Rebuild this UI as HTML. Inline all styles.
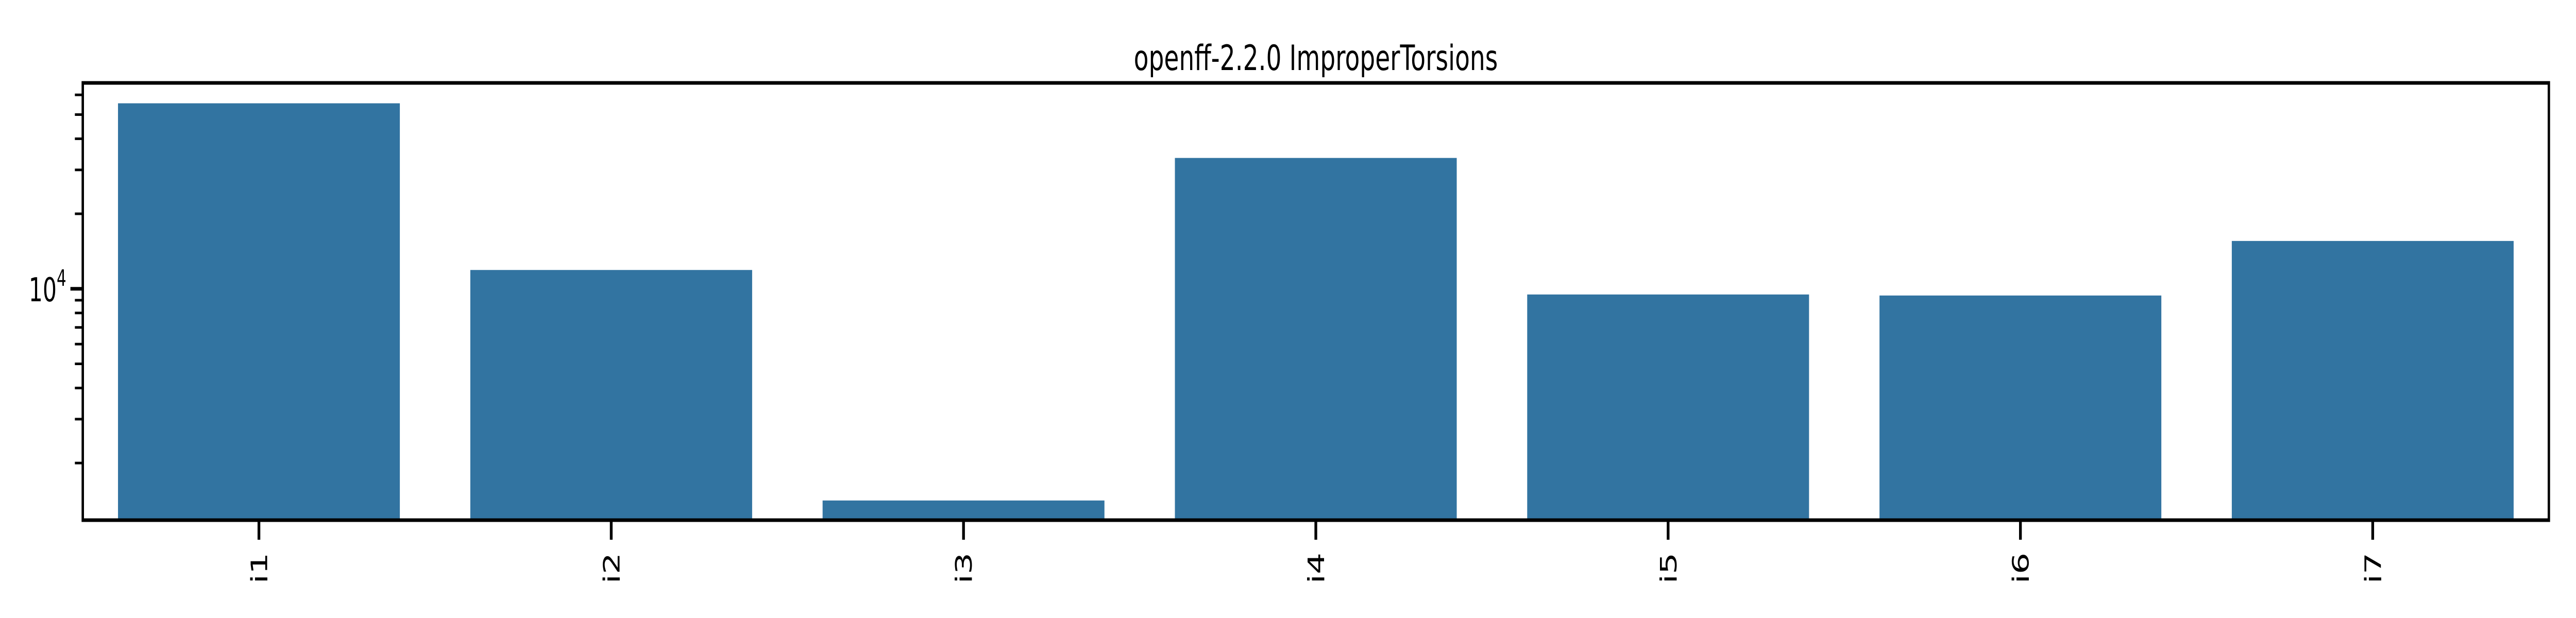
<!DOCTYPE html>
<html><head><meta charset="utf-8"><style>
html,body{margin:0;padding:0;background:#fff;width:100%;height:100%;overflow:hidden;}
svg{display:block;position:absolute;left:0;top:0;width:100vw;height:100vh;}
text{font-family:"DejaVu Sans","Liberation Sans",sans-serif;fill:#000;}
</style></head><body>
<svg id="chart" viewBox="0 0 7500 1200" preserveAspectRatio="none" xmlns="http://www.w3.org/2000/svg">
<rect x="0" y="0" width="7500" height="1200" fill="#fff"/>
<text x="3831" y="136" font-size="68" text-anchor="middle" textLength="1060" lengthAdjust="spacingAndGlyphs">openff-2.2.0 ImproperTorsions</text>
<g id="bars"></g>
<g id="yticks"></g>
<g id="xticks"></g>
<rect x="241" y="161" width="7180" height="849" fill="none" stroke="#000" stroke-width="7"/>
</svg>
<script>
const categories = ["i1","i2","i3","i4","i5","i6","i7"];
const values = [55500, 11900, 1415, 33500, 9490, 9400, 15560];
const majorTicks = [10000];
const minorTicks = [2000,3000,4000,5000,6000,7000,8000,9000,20000,30000,40000,50000,60000];

const NS = "http://www.w3.org/2000/svg";
const L = 241, R = 7421, T = 161, B = 1010;
const yMin = Math.log10(1180), yMax = Math.log10(67000);
function y(v){ return B - (Math.log10(v) - yMin) / (yMax - yMin) * (B - T); }
const step = (R - L) / categories.length;
function x(i){ return L + step * (i + 0.5); }
const bw = step * 0.8;

function mk(tag, attrs){ const e = document.createElementNS(NS, tag); for (const k in attrs) e.setAttribute(k, attrs[k]); return e; }

const bars = document.getElementById('bars');
values.forEach((v, i) => {
  const r = mk('rect', {x: x(i) - bw/2, y: y(v), width: bw, height: B - y(v), fill: '#3274a1'});
  
  
  bars.appendChild(r);
});

const yt = document.getElementById('yticks');
minorTicks.forEach(v => {
  if (y(v) < T || y(v) > B) return;
  const l = mk('line', {x1: L - 23, x2: L, y1: y(v), y2: y(v), stroke: '#000', 'stroke-width': 5});
  
  
  yt.appendChild(l);
});
majorTicks.forEach(v => {
  const l = mk('line', {x1: L - 36, x2: L, y1: y(v), y2: y(v), stroke: '#000', 'stroke-width': 7});
  
  
  yt.appendChild(l);
  const t = mk('text', {x: L - 48, y: y(v) + 24, 'font-size': 64, 'text-anchor': 'end'});
  
  
  t.innerHTML = '10<tspan font-size="44" dy="-30">' + Math.round(Math.log10(v)) + '</tspan>';
  yt.appendChild(t);
});

const xt = document.getElementById('xticks');
categories.forEach((c, i) => {
  const l = mk('line', {x1: x(i), x2: x(i), y1: B, y2: B + 38, stroke: '#000', 'stroke-width': 8});
  
  
  xt.appendChild(l);
  const t = mk('text', {x: 0, y: 0, 'font-size': 66, 'text-anchor': 'end', transform: 'translate(' + (x(i) + 24) + ',' + 1073 + ') rotate(-90)'});
  
  
  t.textContent = c;
  xt.appendChild(t);
});
</script>
</body></html>
